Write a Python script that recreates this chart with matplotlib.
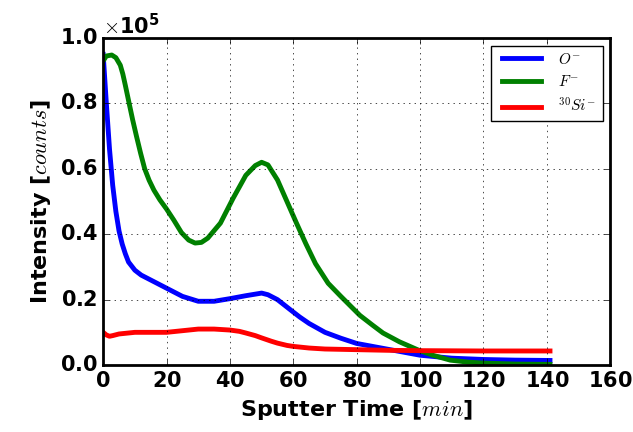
import matplotlib
matplotlib.use('Agg')
import matplotlib.pyplot as plt

plt.style.use('classic')
plt.rcParams['font.weight'] = 'bold'
plt.rcParams['axes.labelweight'] = 'bold'
plt.rcParams['mathtext.fontset'] = 'cm'
plt.rcParams['axes.formatter.use_mathtext'] = True

# sputter time (min) and intensities (x1e5 counts)
t_o = [0, 1, 2, 3, 4, 5, 6, 7, 8, 10, 12, 15, 18, 20, 25, 30, 35, 40, 45, 50,
       52, 55, 60, 62, 65, 70, 75, 80, 90, 100, 110, 120, 130, 141]
o_vals = [0.95, 0.80, 0.66, 0.55, 0.47, 0.41, 0.37, 0.34, 0.315, 0.29, 0.275,
          0.26, 0.245, 0.235, 0.21, 0.195, 0.195, 0.203, 0.212, 0.22, 0.215,
          0.20, 0.162, 0.147, 0.127, 0.10, 0.082, 0.066, 0.048, 0.03, 0.021,
          0.017, 0.015, 0.014]

t_f = [0, 1, 2.7, 4, 5.4, 6.2, 7, 8.2, 9.3, 10.5, 11.8, 13.1, 14.5, 16, 17.9,
       20, 22.3, 24.7, 27, 29, 31, 33, 37, 41, 45, 48, 50, 52, 55, 58, 61, 64,
       67, 71, 75, 81, 85, 88.3, 93.5, 99.4, 104, 109.5, 115, 120, 130, 141]
f_vals = [0.93, 0.945, 0.948, 0.94, 0.917, 0.89, 0.855, 0.80, 0.75, 0.70,
          0.648, 0.60, 0.565, 0.535, 0.505, 0.477, 0.443, 0.405, 0.382, 0.373,
          0.375, 0.388, 0.434, 0.51, 0.58, 0.61, 0.62, 0.612, 0.566, 0.50,
          0.434, 0.37, 0.31, 0.25, 0.21, 0.152, 0.122, 0.098, 0.071, 0.046,
          0.03, 0.015, 0.009, 0.006, 0.003, 0.002]

t_si = [0, 1, 2, 3, 5, 8, 10, 15, 20, 25, 30, 35, 40, 43, 45, 48, 50, 53, 55,
        58, 60, 65, 70, 80, 90, 100, 120, 141]
si_vals = [0.10, 0.092, 0.088, 0.09, 0.095, 0.098, 0.10, 0.10, 0.10, 0.105,
           0.11, 0.11, 0.107, 0.103, 0.098, 0.09, 0.083, 0.073, 0.067, 0.06,
           0.057, 0.052, 0.049, 0.047, 0.045, 0.044, 0.043, 0.043]

fig = plt.figure(figsize=(6.33, 4.32), dpi=100)
ax = fig.add_axes([0.163, 0.155, 0.801, 0.757])

ax.plot(t_o, [v * 1e5 for v in o_vals], color='blue', lw=3.5, label=r'$O^{-}$')
ax.plot(t_f, [v * 1e5 for v in f_vals], color='green', lw=3.5, label=r'$F^{-}$')
ax.plot(t_si, [v * 1e5 for v in si_vals], color='red', lw=3.5, label=r'$^{30}Si^{-}$')

ax.set_xlim(0, 160)
ax.set_ylim(0, 1e5)
ax.set_xticks(range(0, 161, 20))
ax.set_yticks([0, 0.2e5, 0.4e5, 0.6e5, 0.8e5, 1.0e5])
ax.ticklabel_format(axis='y', style='sci', scilimits=(0, 0))
ax.yaxis.get_offset_text().set_fontsize(15)
ax.yaxis.get_offset_text().set_fontweight('bold')
ax.tick_params(labelsize=15)
for lbl in ax.get_xticklabels() + ax.get_yticklabels():
    lbl.set_fontweight('bold')
for sp in ax.spines.values():
    sp.set_linewidth(2)
ax.grid(True)

ax.set_xlabel(r'Sputter Time [$min$]', fontsize=16, fontweight='bold')
ax.set_ylabel(r'Intensity [$counts$]', fontsize=16, fontweight='bold')

ax.legend(loc='upper right', fontsize=11, handlelength=3.2)

fig.savefig('out.png', dpi=100)
